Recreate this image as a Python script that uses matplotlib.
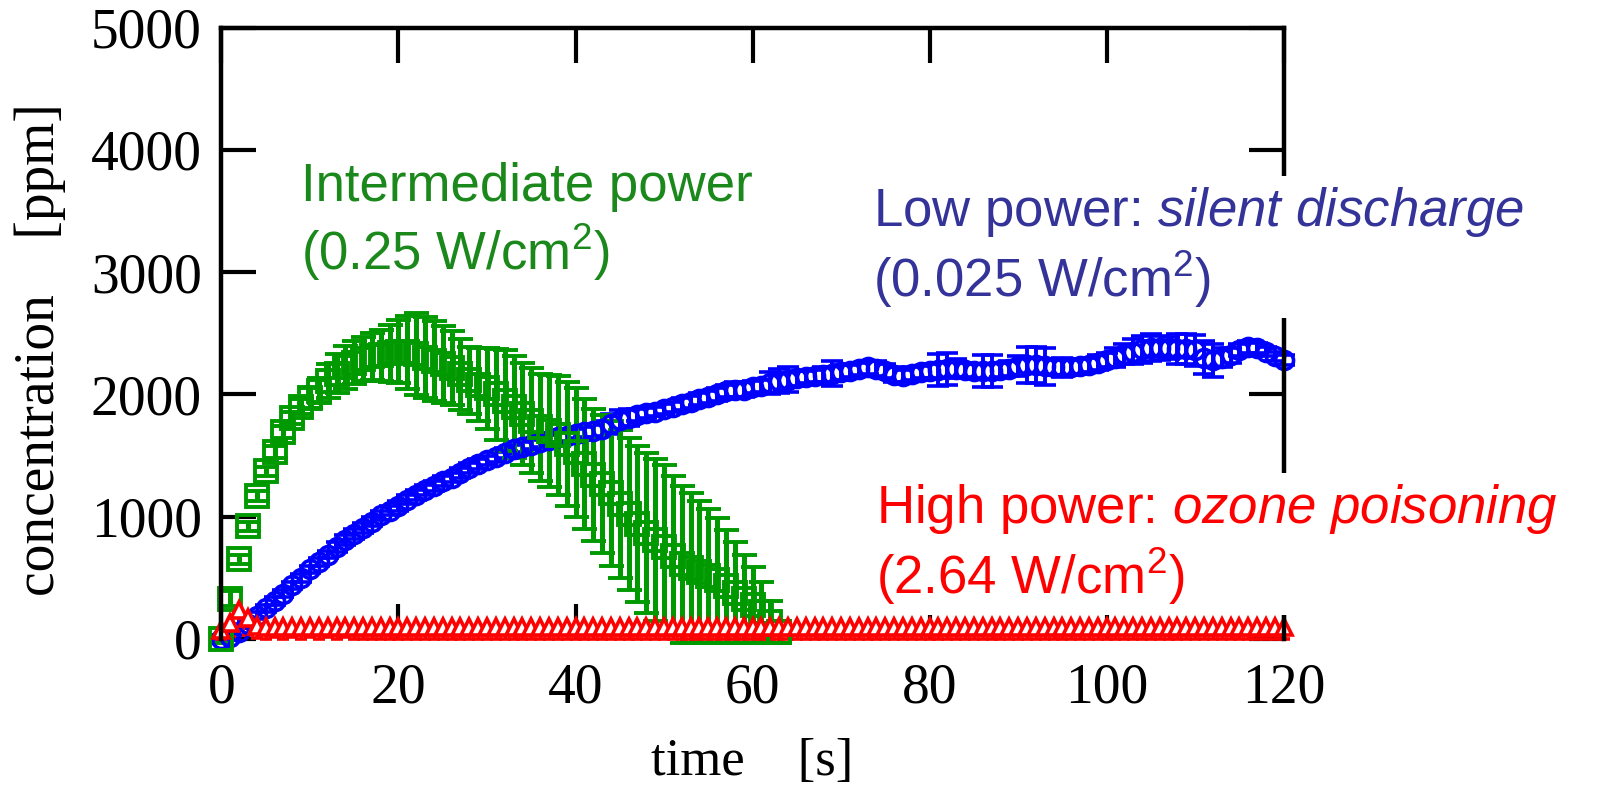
import matplotlib.pyplot as plt
import numpy as np

plt.rcParams['font.family'] = ['Liberation Serif', 'DejaVu Serif']
plt.rcParams['mathtext.fontset'] = 'custom'
plt.rcParams['mathtext.rm'] = 'Liberation Sans'
plt.rcParams['mathtext.it'] = 'Liberation Sans:italic'

# low power (silent discharge), 1 s steps
time_low = np.arange(0, 121)
low_conc = [0, 20, 60, 120, 190, 250, 310, 370, 440, 500,
            570, 630, 690, 750, 810, 860, 910, 960, 1010, 1050,
            1090, 1140, 1180, 1220, 1250, 1290, 1320, 1360, 1400, 1430,
            1460, 1490, 1520, 1550, 1570, 1590, 1610, 1630, 1650, 1660,
            1680, 1690, 1700, 1720, 1760, 1790, 1810, 1830, 1850, 1860,
            1880, 1900, 1920, 1940, 1960, 1980, 2000, 2030, 2040, 2040,
            2060, 2070, 2090, 2110, 2120, 2130, 2140, 2150, 2160, 2170,
            2180, 2190, 2210, 2220, 2210, 2190, 2160, 2150, 2170, 2180,
            2190, 2200, 2210, 2210, 2200, 2190, 2190, 2190, 2200, 2210,
            2230, 2240, 2240, 2230, 2220, 2220, 2220, 2230, 2240, 2260,
            2280, 2300, 2330, 2350, 2370, 2380, 2380, 2380, 2370, 2370,
            2360, 2300, 2280, 2300, 2320, 2360, 2390, 2380, 2350, 2310,
            2280]
low_err = [20, 20, 30, 30, 30, 30, 30, 30, 30, 30,
           30, 30, 30, 40, 40, 40, 40, 40, 40, 40,
           40, 40, 40, 40, 40, 40, 40, 40, 40, 40,
           40, 40, 40, 40, 40, 40, 40, 40, 40, 40,
           40, 40, 50, 60, 80, 80, 70, 50, 40, 40,
           40, 40, 50, 50, 50, 50, 50, 50, 60, 60,
           50, 50, 90, 100, 100, 60, 50, 50, 60, 100,
           60, 50, 50, 50, 60, 60, 60, 50, 50, 50,
           60, 130, 130, 80, 60, 60, 130, 130, 60, 60,
           80, 150, 150, 150, 60, 80, 60, 60, 60, 60,
           60, 80, 80, 100, 110, 110, 100, 90, 125, 125,
           125, 135, 135, 80, 60, 50, 50, 40, 40, 40,
           40]

# intermediate power
time_mid = np.arange(0, 64)
mid_conc = [0, 330, 650, 920, 1170, 1370, 1530, 1690, 1810, 1900,
            1970, 2030, 2110, 2170, 2220, 2260, 2290, 2310, 2320, 2335,
            2350, 2345, 2330, 2300, 2275, 2245, 2215, 2165, 2115, 2080,
            2050, 2000, 1950, 1895, 1840, 1785, 1730, 1700, 1665, 1595,
            1525, 1430, 1340, 1265, 1190, 1105, 1020, 940, 865, 810,
            755, 680, 610, 580, 550, 515, 480, 430, 380, 330,
            280, 220, 140, 60]
mid_err = [30, 60, 40, 40, 40, 40, 50, 50, 50, 60,
           80, 100, 140, 160, 175, 175, 180, 195, 210, 235,
           258, 300, 334, 330, 325, 315, 305, 290, 275, 300,
           330, 370, 410, 415, 420, 430, 440, 460, 485, 505,
           525, 530, 540, 565, 590, 605, 620, 640, 655, 660,
           665, 650, 640, 610, 580, 545, 510, 460, 410, 360,
           310, 250, 170, 90]

# high power (ozone poisoning)
time_high = np.arange(0, 121)
high_conc = [70, 130, 240, 170, 110, 100, 95, 100, 95, 100,
             95, 100, 95, 100, 95, 100, 95, 95, 95, 95,
             95, 95, 95, 95, 95, 95, 95, 95, 95, 95,
             95, 95, 95, 95, 95, 95, 95, 95, 95, 95,
             95, 95, 95, 95, 95, 95, 95, 95, 95, 95,
             95, 95, 95, 95, 95, 95, 95, 95, 95, 95,
             95, 95, 95, 95, 95, 95, 95, 95, 95, 95,
             95, 95, 95, 95, 95, 95, 95, 95, 95, 95,
             95, 95, 95, 95, 95, 95, 95, 95, 95, 95,
             95, 95, 95, 95, 95, 95, 95, 95, 95, 95,
             95, 95, 95, 95, 95, 95, 95, 95, 95, 95,
             95, 95, 95, 95, 95, 95, 95, 95, 95, 95,
             95]
high_err = [70, 110, 160, 140, 100, 100, 75, 100, 75, 100,
            75, 100, 75, 100, 75, 100, 95, 95, 95, 95,
            95, 95, 95, 95, 95, 95, 95, 95, 95, 95,
            95, 95, 95, 95, 95, 95, 95, 95, 95, 95,
            95, 95, 95, 95, 95, 95, 95, 95, 95, 95,
            95, 95, 95, 95, 95, 95, 95, 95, 95, 95,
            95, 95, 95, 95, 95, 95, 95, 95, 95, 95,
            95, 95, 95, 95, 95, 95, 95, 95, 95, 95,
            95, 95, 95, 95, 95, 95, 95, 95, 95, 95,
            95, 95, 95, 95, 95, 95, 95, 95, 95, 95,
            95, 95, 95, 95, 95, 95, 95, 95, 95, 95,
            95, 95, 95, 95, 95, 95, 95, 95, 95, 95,
            95]

fig = plt.figure(figsize=(16, 7.88), dpi=100)
ax = fig.add_axes([0.1384, 0.1891, 0.8023 - 0.1384, 0.9651 - 0.1891])

ax.errorbar(time_low, low_conc, yerr=low_err, fmt='o', color='#0000ff',
            ms=13, mfc='none', mew=2.6, elinewidth=2.8, capsize=8,
            capthick=3.6, clip_on=False)
ax.errorbar(time_mid, mid_conc, yerr=mid_err, fmt='s', color='#009900',
            ms=16, mfc='none', mew=2.8, elinewidth=3.6, capsize=9,
            capthick=4.2, clip_on=False)
eb = ax.errorbar(time_high, high_conc, yerr=[high_err, np.zeros(len(high_err))],
                 fmt='^', color='#ff0000', ms=11, mfc='white', mew=2.6,
                 elinewidth=2.4, capsize=4, capthick=5.5, clip_on=False)
eb[1][1].set_visible(False)

ax.set_xlim(0, 120)
ax.set_ylim(0, 5000)
ax.set_xticks([0, 20, 40, 60, 80, 100, 120])
ax.set_yticks([0, 1000, 2000, 3000, 4000, 5000])
ax.tick_params(direction='in', length=25, width=3, top=True, right=True,
               labelsize=40)
ax.tick_params(axis='x', pad=17)
ax.tick_params(axis='y', pad=14)
for s in ['left', 'right', 'top']:
    ax.spines[s].set_linewidth(3.2)
ax.spines['bottom'].set_visible(False)

ax.set_xlabel('time    [s]', fontsize=38, labelpad=17)
ax.set_ylabel('concentration    [ppm]', fontsize=40)
ax.yaxis.set_label_coords(-0.146, 0.474)

sans = ['Liberation Sans', 'DejaVu Sans']
ax.text(9.0, 3018, 'Intermediate power\n(0.25 W/cm$^2$)', color='#1b881b',
        fontsize=38, family=sans, ha='left', va='baseline')
ax.text(73.6, 2800, 'Low power: $\\mathit{silent\\ discharge}$\n(0.025 W/cm$^2$)',
        color='#333399', fontsize=38, family=sans, ha='left', va='baseline',
        bbox=dict(facecolor='white', edgecolor='none', pad=6))
ax.text(73.9, 370, 'High power: $\\mathit{ozone\\ poisoning}$\n(2.64 W/cm$^2$)',
        color='#ff0000', fontsize=38, family=sans, ha='left', va='baseline',
        bbox=dict(facecolor='white', edgecolor='none', pad=6))

fig.savefig('out.png', dpi=100)
